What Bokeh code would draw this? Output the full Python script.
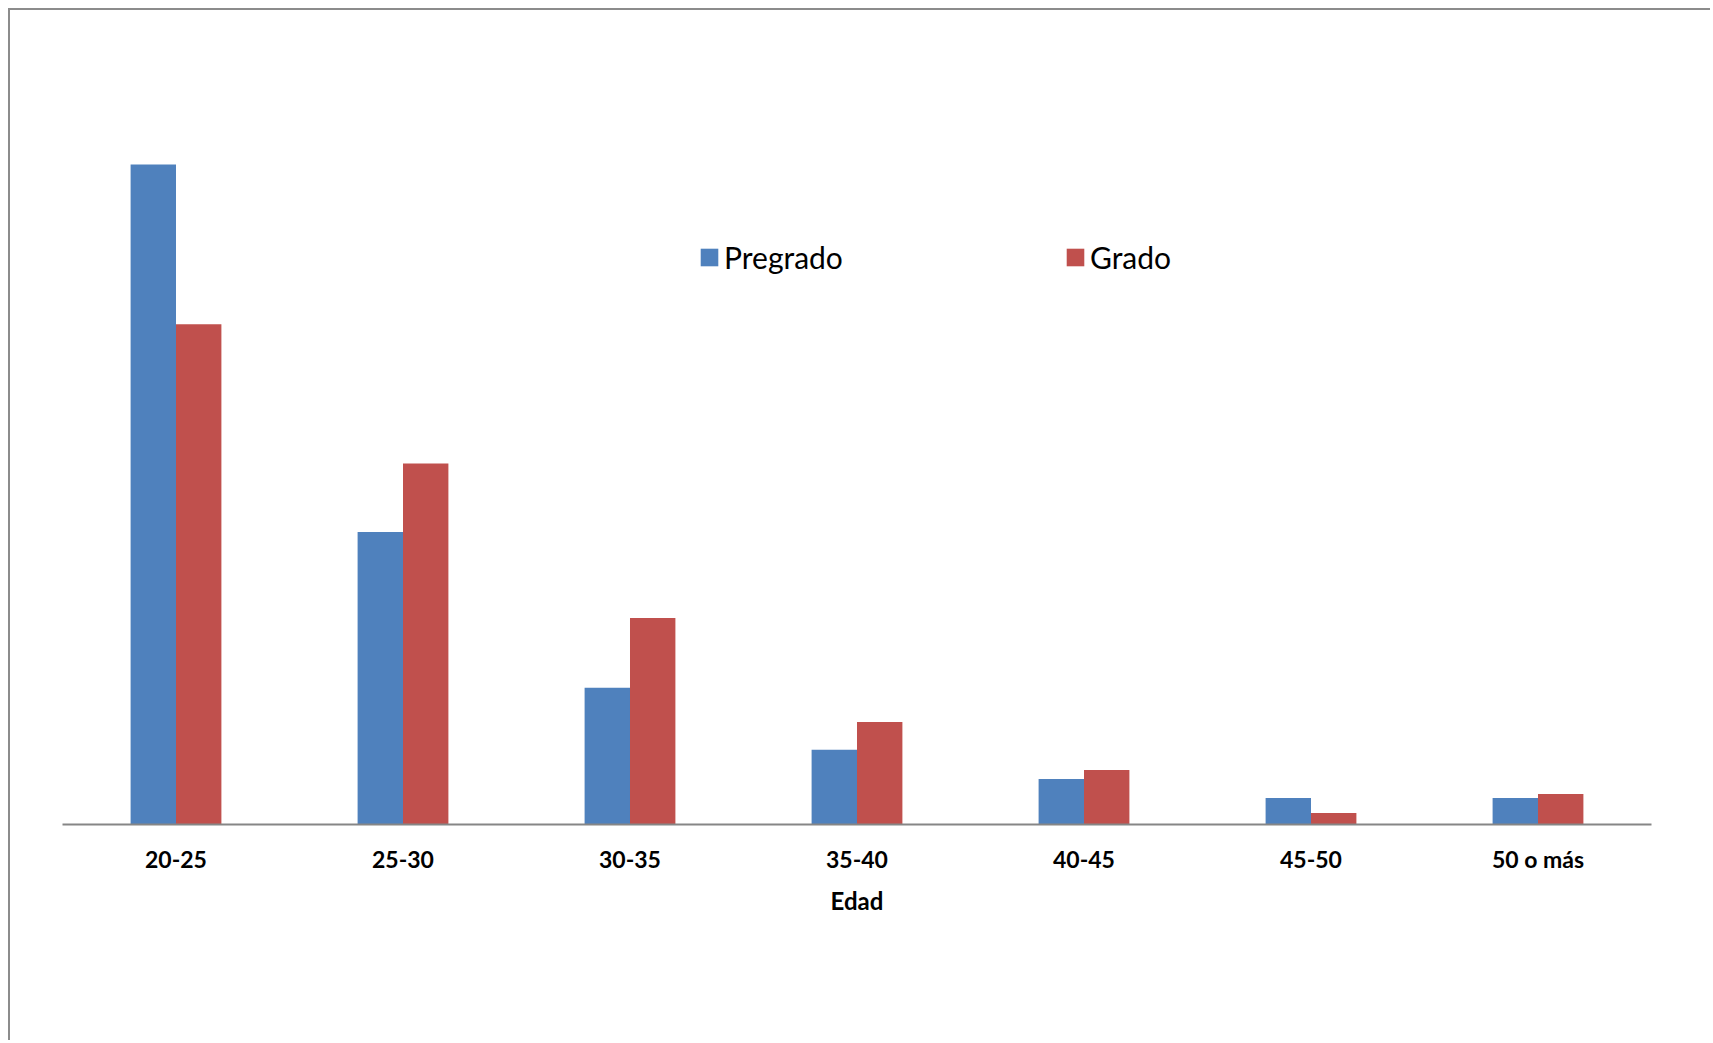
from bokeh.plotting import figure
from bokeh.models import ColumnDataSource, FactorRange, Range1d, Legend, LegendItem
from bokeh.transform import dodge
from bokeh.embed import file_html
from bokeh.resources import INLINE

# ---- data (percent of each group) ----
categorias = ["20-25", "25-30", "30-35", "35-40", "40-45", "45-50", "50 o más"]
pregrado = [52.1, 23.1, 10.8, 5.9, 3.6, 2.1, 2.1]
grado = [39.5, 28.5, 16.3, 8.1, 4.3, 0.9, 2.4]
series_names = ["Pregrado", "Grado"]
x_title = "Edad"

source = ColumnDataSource(dict(cat=categorias, pregrado=pregrado, grado=grado))

p = figure(
    x_range=FactorRange(*categorias, range_padding=0),
    y_range=Range1d(0, 60),
    width=1702, height=1032,
    min_border_left=52, min_border_right=61,
    min_border_top=54, min_border_bottom=218,
    y_axis_location=None,
    output_backend="svg", toolbar_location=None,
)
p.styles = {"margin-left": "8px", "margin-top": "8px",
            "border-left": "2px solid #8c8c8c", "border-top": "2px solid #8c8c8c"}

blue = "#4F81BD"
red = "#C0504D"

r1 = p.vbar(x=dodge("cat", -0.1, range=p.x_range), top="pregrado", width=0.2,
            source=source, fill_color=blue, line_color=None)
r2 = p.vbar(x=dodge("cat", 0.1, range=p.x_range), top="grado", width=0.2,
            source=source, fill_color=red, line_color=None)

p.outline_line_color = None
p.xgrid.grid_line_color = None
p.ygrid.grid_line_color = None

ax = p.xaxis[0]
ax.axis_line_color = "#868686"
ax.axis_line_width = 2
ax.major_tick_line_color = None
ax.minor_tick_line_color = None
ax.major_tick_out = 0
ax.major_tick_in = 0
ax.major_label_standoff = 20
ax.major_label_text_font = "Lato"
ax.major_label_text_font_style = "bold"
ax.major_label_text_font_size = "23px"
ax.major_label_text_color = "#000000"
ax.axis_label = x_title
ax.axis_label_text_font = "Lato"
ax.axis_label_text_font_style = "bold"
ax.axis_label_text_font_size = "24px"
ax.axis_label_text_color = "#000000"
ax.axis_label_standoff = 10

def make_legend(name, renderer, loc):
    lg = Legend(items=[LegendItem(label=name, renderers=[renderer])],
                location=loc, orientation="horizontal",
                glyph_width=22, glyph_height=22, label_standoff=4,
                padding=0, margin=0, spacing=0,
                border_line_color=None, background_fill_alpha=0,
                label_text_font="Lato", label_text_font_size="30px",
                label_text_color="#000000")
    p.add_layout(lg)
    return lg

make_legend(series_names[0], r1, (636, 549))
make_legend(series_names[1], r2, (1002, 549))

open("out.html", "w").write(file_html(p, INLINE))
